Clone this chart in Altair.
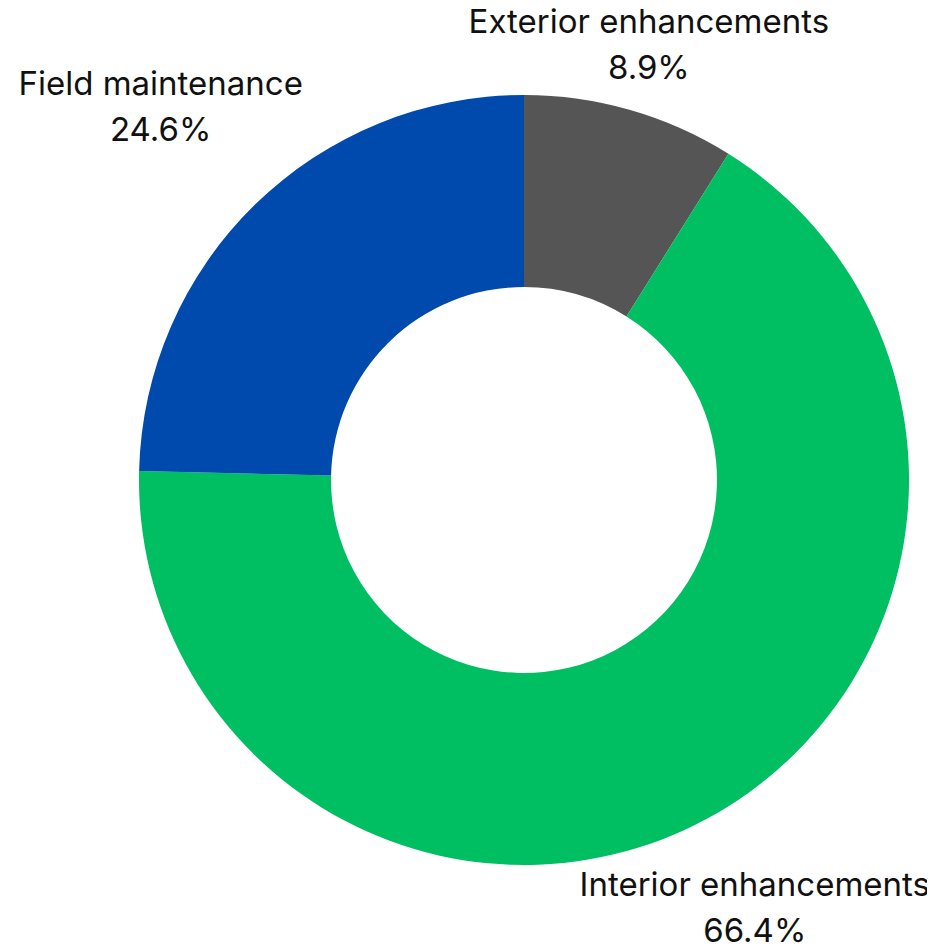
import altair as alt
import pandas as pd
import math

categories = ["Exterior enhancements", "Interior enhancements", "Field maintenance"]
values = [8.9, 66.4, 24.6]
colors = ["#555555", "#00BF63", "#004AAD"]
label_radius = [452, 487, 520]

total = sum(values)
starts, ends = [], []
acc = 0.0
for v in values:
    starts.append(acc / total * 2 * math.pi)
    acc += v
    ends.append(acc / total * 2 * math.pi)

df = pd.DataFrame({
    "category": categories,
    "value": values,
    "t0": starts,
    "t1": ends,
    "tm": [(a + b) / 2 for a, b in zip(starts, ends)],
    "label": [f"{c}\n{v}%" for c, v in zip(categories, values)],
    "lr": label_radius,
})

cx, cy = 516, 472

arcs = alt.Chart(df).mark_arc(outerRadius=385, innerRadius=193, stroke=None).encode(
    theta=alt.Theta("t0:Q", scale=None),
    theta2="t1:Q",
    color=alt.Color("category:N", scale=alt.Scale(domain=categories, range=colors), legend=None),
    x=alt.value(cx), y=alt.value(cy),
)

labels = alt.Chart(df).mark_text(
    font="Inter", fontSize=33, lineBreak="\n", lineHeight=46, dy=-23,
    align="center", baseline="middle", color="#111111",
).encode(
    theta=alt.Theta("tm:Q", scale=None),
    radius=alt.Radius("lr:Q", scale=None),
    text="label:N",
    x=alt.value(cx), y=alt.value(cy),
)

chart = alt.layer(arcs, labels).properties(
    width=919, height=938,
    autosize=alt.AutoSizeParams(type="none"),
    padding=0,
).configure_view(stroke=None)

chart.save("out.html", embed_options={"renderer": "svg", "actions": False})
